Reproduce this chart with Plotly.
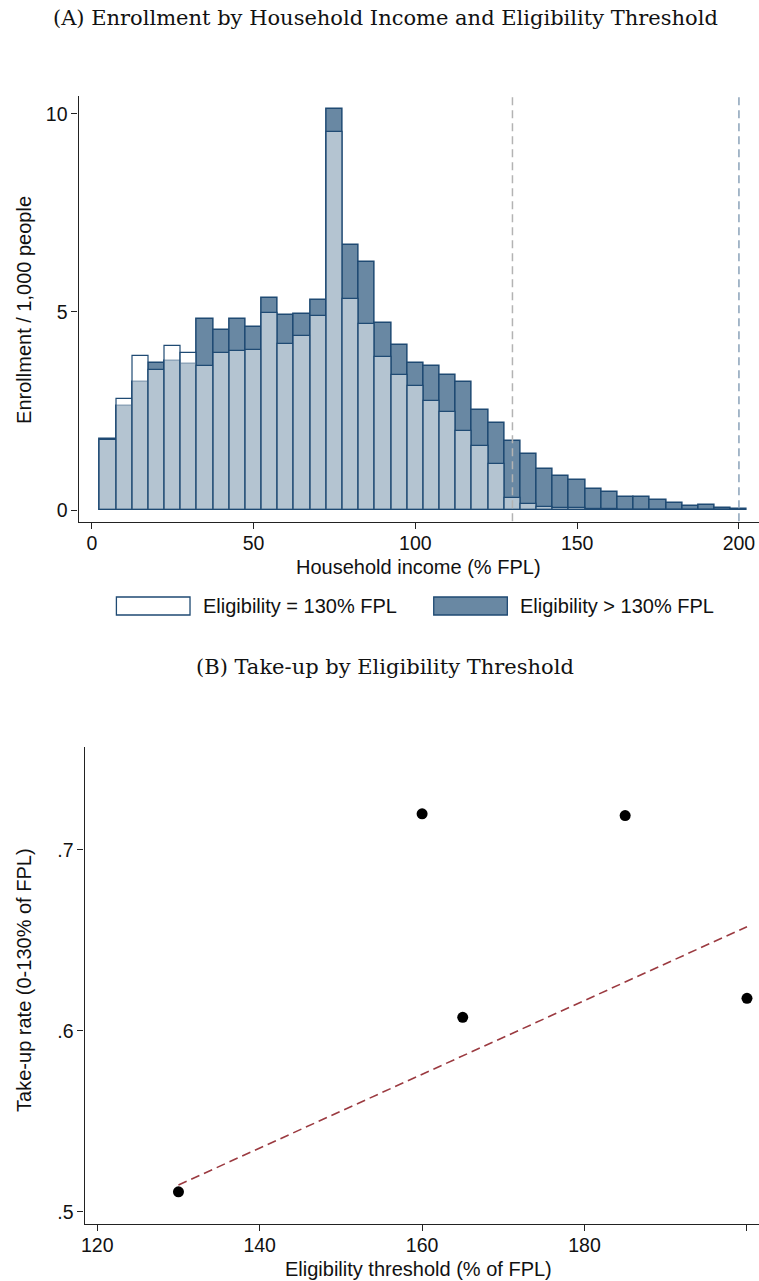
import plotly.graph_objects as go

# ---------------- Data ----------------
income_bins = [5, 10, 15, 20, 25, 30, 35, 40, 45, 50, 55, 60, 65, 70, 75, 80, 85, 90, 95, 100,
               105, 110, 115, 120, 125, 130, 135, 140, 145, 150, 155, 160, 165, 170, 175, 180,
               185, 190, 195, 200]
enroll_eq130 = [1.76, 2.79, 3.90, 3.54, 4.13, 3.97, 3.64, 3.97, 4.01, 4.05, 4.98, 4.19, 4.38, 4.89,
                9.54, 5.33, 4.69, 3.86, 3.42, 3.14, 2.75, 2.48, 2.00, 1.61, 1.16, 0.30, 0.15, 0.08,
                0.06, 0.05, 0.03, 0.02, 0.01, 0.01, 0.01, 0.0, 0.0, 0.0, 0.0, 0.0]
enroll_gt130 = [1.80, 2.63, 3.24, 3.71, 3.77, 3.69, 4.81, 4.54, 4.83, 4.61, 5.36, 4.91, 4.95, 5.31,
                10.12, 6.68, 6.27, 4.73, 4.17, 3.71, 3.63, 3.41, 3.24, 2.53, 2.20, 1.75, 1.42, 1.03,
                0.86, 0.76, 0.53, 0.46, 0.33, 0.33, 0.26, 0.17, 0.10, 0.12, 0.06, 0.03]
thresholds = [130, 200]
threshold_colors = ["#b3b3b3", "#8aa2b9"]

elig_threshold = [130, 160, 165, 185, 200]
takeup_rate = [0.511, 0.720, 0.6075, 0.719, 0.618]
fit_x = [130, 200]
fit_y = [0.5148, 0.6576]

xticks_a = [0, 50, 100, 150, 200]
yticks_a = [0, 5, 10]
xticks_b = [120, 140, 160, 180, 200]
yticks_b = [0.5, 0.6, 0.7]
yticklabels_b = [".5", ".6", ".7"]

# ---------------- Figure ----------------
W, H = 759, 1281
SANS = "Liberation Sans, Arial, sans-serif"
SERIF = "DejaVu Serif, serif"
DARK = "#6988a3"
EDGE = "#1f4a73"
TXT = 20

fig = go.Figure()

fig.add_trace(go.Bar(x=income_bins, y=enroll_gt130, name="Eligibility > 130% FPL",
                     marker=dict(color=DARK, line=dict(color=EDGE, width=1.5)),
                     xaxis="x", yaxis="y", showlegend=False))
fig.add_trace(go.Bar(x=income_bins, y=enroll_eq130, name="Eligibility = 130% FPL",
                     marker=dict(color="rgba(255,255,255,0.5)", line=dict(color=EDGE, width=1.2)),
                     xaxis="x", yaxis="y", showlegend=False))

ya_lo, ya_hi = -0.31, 10.45
for t, c in zip(thresholds, threshold_colors):
    fig.add_trace(go.Scatter(x=[t, t], y=[ya_lo - 0.3, ya_hi], mode="lines",
                             line=dict(color=c, width=1.5, dash="8px,5px"),
                             xaxis="x", yaxis="y", showlegend=False, hoverinfo="skip", cliponaxis=False))

fig.add_trace(go.Scatter(x=fit_x, y=fit_y, mode="lines",
                         line=dict(color="#9b3a40", width=1.6, dash="9px,5px"),
                         xaxis="x2", yaxis="y2", showlegend=False))
fig.add_trace(go.Scatter(x=elig_threshold, y=takeup_rate, mode="markers",
                         marker=dict(color="black", size=11),
                         xaxis="x2", yaxis="y2", showlegend=False))

def py(p):
    return 1 - p / H

def px(p):
    return p / W

axis_common = dict(showgrid=False, zeroline=False, showline=True, linecolor="#222", linewidth=1.3,
                   ticks="outside", ticklen=6, tickwidth=1.2, tickcolor="#222",
                   tickfont=dict(family=SANS, size=19.5, color="#111"))

fig.update_layout(
    width=W, height=H, autosize=False,
    margin=dict(l=0, r=0, t=0, b=0),
    paper_bgcolor="white", plot_bgcolor="white",
    barmode="overlay", bargap=0,
    xaxis=dict(domain=[px(75), 1], range=[-4.09, 206.2], tickvals=xticks_a, anchor="y",
               ticklabelstandoff=-3, **axis_common),
    yaxis=dict(domain=[py(522.3), py(96)], range=[ya_lo, ya_hi], tickvals=yticks_a, anchor="x",
               **axis_common),
    xaxis2=dict(domain=[px(81), 1], range=[118.44, 201.48], tickvals=xticks_b, anchor="y2",
                ticklabelstandoff=-2, **axis_common),
    yaxis2=dict(domain=[py(1223.7), py(746.7)], range=[0.4934, 0.7571], tickvals=yticks_b,
                ticktext=yticklabels_b, anchor="x2", **axis_common),
)

ann = []
ann.append(dict(text="(A) Enrollment by Household Income and Eligibility Threshold", x=px(384), y=py(18),
                xref="paper", yref="paper", showarrow=False, font=dict(family=SERIF, size=21, color="#111"),
                xanchor="center", yanchor="middle"))
ann.append(dict(text="(B) Take-up by Eligibility Threshold", x=px(383), y=py(667),
                xref="paper", yref="paper", showarrow=False, font=dict(family=SERIF, size=21, color="#111"),
                xanchor="center", yanchor="middle"))
ann.append(dict(text="Household income (% FPL)", x=px(417), y=py(567), xref="paper", yref="paper",
                showarrow=False, font=dict(family=SANS, size=TXT, color="#111"), xanchor="center", yanchor="middle"))
ann.append(dict(text="Enrollment / 1,000 people", x=px(20), y=py(310), xref="paper", yref="paper",
                showarrow=False, textangle=-90, font=dict(family=SANS, size=TXT, color="#111"),
                xanchor="center", yanchor="middle"))
ann.append(dict(text="Eligibility threshold (% of FPL)", x=px(417), y=py(1269), xref="paper", yref="paper",
                showarrow=False, font=dict(family=SANS, size=TXT, color="#111"), xanchor="center", yanchor="middle"))
ann.append(dict(text="Take-up rate (0-130% of FPL)", x=px(20), y=py(980), xref="paper", yref="paper",
                showarrow=False, textangle=-90, font=dict(family=SANS, size=TXT, color="#111"),
                xanchor="center", yanchor="middle"))
# legend texts
ann.append(dict(text="Eligibility = 130% FPL", x=px(198), y=py(606), xref="paper", yref="paper",
                showarrow=False, font=dict(family=SANS, size=TXT, color="#111"), xanchor="left", yanchor="middle"))
ann.append(dict(text="Eligibility > 130% FPL", x=px(517), y=py(606), xref="paper", yref="paper",
                showarrow=False, font=dict(family=SANS, size=TXT, color="#111"), xanchor="left", yanchor="middle"))

shapes = [
    dict(type="rect", xref="paper", yref="paper", x0=px(113), x1=px(187), y0=py(615), y1=py(597),
         fillcolor="white", line=dict(color=EDGE, width=1.3)),
    dict(type="rect", xref="paper", yref="paper", x0=px(432), x1=px(506), y0=py(615), y1=py(597),
         fillcolor=DARK, line=dict(color=EDGE, width=1.3)),
]
fig.update_layout(annotations=ann, shapes=shapes)

fig.write_html("out.html")
